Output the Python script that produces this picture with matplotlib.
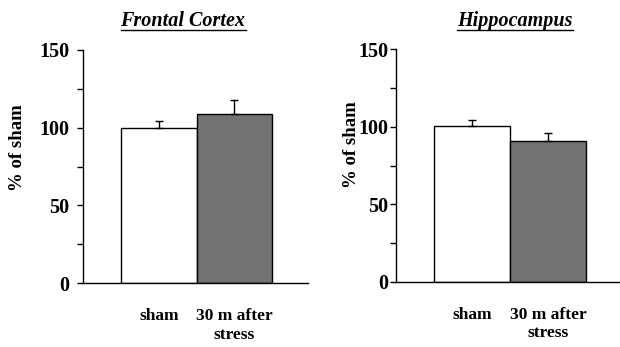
import matplotlib.pyplot as plt
from matplotlib.lines import Line2D
from matplotlib.ticker import MultipleLocator

# Мозговые области: % от sham, 30 мин после стресса
groups = ["sham", "30 m after\nstress"]
frontal_vals = [100, 109]
frontal_err = [4, 8.5]
hippo_vals = [100.5, 90.5]
hippo_err = [4, 5.5]
titles = ["Frontal Cortex", "Hippocampus"]
yticks = [0, 50, 100, 150]

plt.rcParams["font.family"] = "Liberation Serif"
plt.rcParams["font.weight"] = "bold"

fig = plt.figure(figsize=(6.2, 3.47), dpi=100)
ax1 = fig.add_axes([0.134, 0.184, 0.363, 0.672])
ax2 = fig.add_axes([0.639, 0.188, 0.361, 0.670])

colors = ["white", "#727272"]

panels = [
    (ax1, frontal_vals, frontal_err, (-1.01, 1.98), 6, 183),
    (ax2, hippo_vals, hippo_err, (-1.0, 1.95), 1.5, 515),
]
title_objs = []
for (ax, vals, err, xlim, pad, tx), title in zip(panels, titles):
    x = list(range(len(groups)))
    ax.bar(x, vals, width=1.0, color=colors, edgecolor="black", linewidth=1.0, zorder=2)
    ax.errorbar(x, vals, yerr=[[0] * len(err), err], fmt="none", ecolor="black",
                elinewidth=1.0, capsize=3, capthick=1.0, zorder=3)
    ax.set_xlim(*xlim)
    ax.set_ylim(0, 150)
    ax.set_yticks(yticks)
    ax.yaxis.set_minor_locator(MultipleLocator(25))
    ax.set_xticks(x)
    ax.set_xticklabels(groups, fontsize=12.5, fontweight="bold", linespacing=1.2)
    ax.tick_params(axis="x", length=0, pad=18)
    ax.tick_params(axis="y", which="major", length=4, width=1, pad=pad, labelsize=14.5)
    ax.tick_params(axis="y", which="minor", length=4, width=1)
    for lbl in ax.get_yticklabels():
        lbl.set_fontweight("bold")
    ax.spines["top"].set_visible(False)
    ax.spines["right"].set_visible(False)
    ax.spines["left"].set_linewidth(1.0)
    ax.spines["bottom"].set_linewidth(1.0)
    ax.set_ylabel("% of sham", fontsize=13.5, fontweight="bold")
    t = fig.text(tx / 620, 1 - 21 / 347, title, ha="center", va="center",
                 fontsize=14.5, fontweight="bold", style="italic")
    title_objs.append(t)

ax1.yaxis.set_label_coords(-0.254, 0.58)
ax2.yaxis.set_label_coords(-0.16, 0.59)

# подчёркивание заголовков
fig.canvas.draw()
renderer = fig.canvas.get_renderer()
inv = fig.transFigure.inverted()
for t in title_objs:
    bb = t.get_window_extent(renderer)
    (x0, y0), (x1, y1) = inv.transform([(bb.x0, bb.y0), (bb.x1, bb.y1)])
    fig.add_artist(Line2D([x0, x1], [y0 + 0.004, y0 + 0.004], color="black",
                          linewidth=1.0, transform=fig.transFigure))

fig.savefig("out.png", dpi=100)
